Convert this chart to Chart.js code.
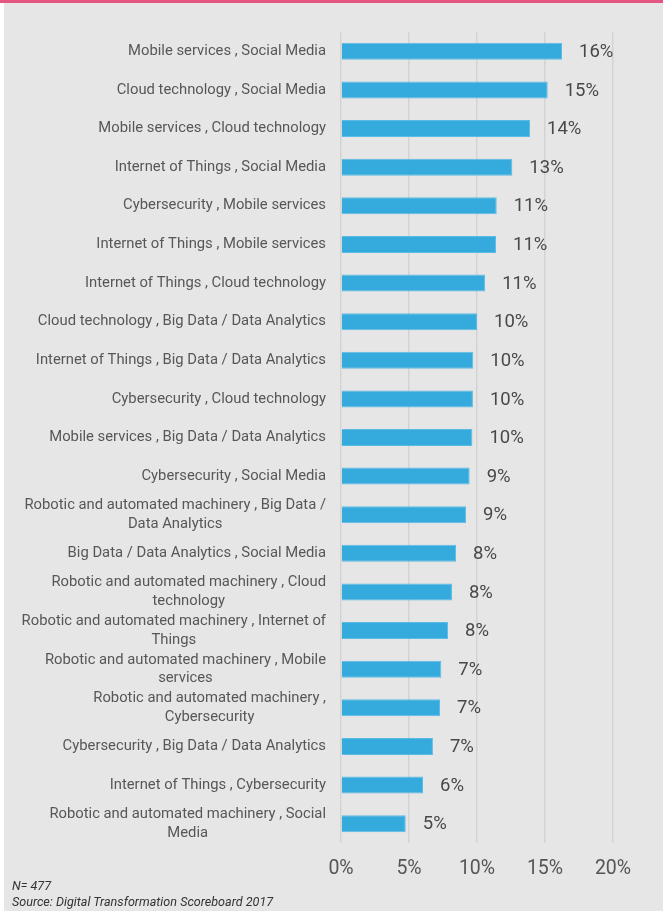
<!DOCTYPE html>
<html>
<head>
<meta charset="utf-8">
<script src="https://cdn.jsdelivr.net/npm/chart.js@4"></script>
<style>
  html, body { margin: 0; padding: 0; background: #ffffff; }
  #topline { position: absolute; left: 0; top: 0; width: 663px; height: 3px; background: #e4567f; }
  #panel { position: absolute; left: 4px; top: 3px; width: 659px; height: 908px; background: #e6e6e6; }
  #wrap { position: absolute; left: 0; top: 0; width: 659px; height: 887px; }
  .note { position: absolute; left: 8px; font-family: Roboto, sans-serif; font-style: italic; font-size: 12.6px; color: #333; }
</style>
</head>
<body>
<div id="topline"></div>
<div id="panel">
  <div id="wrap"><canvas id="barChart"></canvas></div>
  <div class="note" style="top: 875px;">N= 477</div>
  <div class="note" style="top: 891px;">Source: Digital Transformation Scoreboard 2017</div>
</div>
<script>
// Data
const categories = [
    ['Mobile services , Social Media'],
    ['Cloud technology , Social Media'],
    ['Mobile services , Cloud technology'],
    ['Internet of Things , Social Media'],
    ['Cybersecurity , Mobile services'],
    ['Internet of Things , Mobile services'],
    ['Internet of Things , Cloud technology'],
    ['Cloud technology , Big Data / Data Analytics'],
    ['Internet of Things , Big Data / Data Analytics'],
    ['Cybersecurity , Cloud technology'],
    ['Mobile services , Big Data / Data Analytics'],
    ['Cybersecurity , Social Media'],
    ['Robotic and automated machinery , Big Data /', 'Data Analytics'],
    ['Big Data / Data Analytics , Social Media'],
    ['Robotic and automated machinery , Cloud', 'technology'],
    ['Robotic and automated machinery , Internet of', 'Things'],
    ['Robotic and automated machinery , Mobile', 'services'],
    ['Robotic and automated machinery ,', 'Cybersecurity'],
    ['Cybersecurity , Big Data / Data Analytics'],
    ['Internet of Things , Cybersecurity'],
    ['Robotic and automated machinery , Social', 'Media']
];
const shares = [16.25, 15.2, 13.9, 12.6, 11.45, 11.4, 10.6, 10.0, 9.73, 9.7, 9.66,
                9.46, 9.2, 8.46, 8.16, 7.87, 7.38, 7.28, 6.76, 6.03, 4.76];
const xTicks = [0, 5, 10, 15, 20];

// Category labels: block right-aligned, lines centred inside the block
const categoryLabels = {
    id: 'categoryLabels',
    afterDraw(chart) {
        const ctx = chart.ctx;
        const yScale = chart.scales.y;
        const right = chart.chartArea.left - 15;
        ctx.save();
        ctx.font = '14.8px Roboto, sans-serif';
        ctx.fillStyle = '#575757';
        ctx.textAlign = 'center';
        ctx.textBaseline = 'middle';
        categories.forEach((lines, i) => {
            const y = yScale.getPixelForValue(i);
            const w = Math.max(...lines.map(l => ctx.measureText(l).width));
            const cx = right - w / 2;
            const lh = 18.5;
            lines.forEach((l, j) => {
                ctx.fillText(l, cx, y + (j - (lines.length - 1) / 2) * lh);
            });
        });
        ctx.restore();
    }
};

// Value labels next to the bars
const valueLabels = {
    id: 'valueLabels',
    afterDatasetsDraw(chart) {
        const ctx = chart.ctx;
        const meta = chart.getDatasetMeta(0);
        ctx.save();
        ctx.font = '18.5px Roboto, sans-serif';
        ctx.fillStyle = '#484848';
        ctx.textAlign = 'left';
        ctx.textBaseline = 'middle';
        meta.data.forEach((bar, i) => {
            ctx.fillText(Math.round(shares[i]) + '%', bar.x + 17, bar.y + 1);
        });
        ctx.restore();
    }
};

const ctx = document.getElementById('barChart').getContext('2d');
new Chart(ctx, {
    type: 'bar',
    data: {
        labels: categories.map(c => c.join(' ')),
        datasets: [{
            data: shares,
            backgroundColor: '#35aadd',
            borderColor: '#5cbbe4',
            borderWidth: 1,
            barPercentage: 0.88,
            categoryPercentage: 0.5
        }]
    },
    options: {
        indexAxis: 'y',
        responsive: true,
        maintainAspectRatio: false,
        animation: false,
        layout: { padding: { top: 29, right: 50, left: 0, bottom: 0 } },
        plugins: {
            legend: { display: false },
            tooltip: { enabled: false }
        },
        scales: {
            x: {
                min: 0,
                max: 20,
                afterBuildTicks: (scale) => { scale.ticks = xTicks.map(v => ({ value: v })); },
                afterFit: (scale) => { scale.height = 47; },
                grid: { color: '#d3d3d3', lineWidth: 1.5, drawTicks: false },
                border: { display: false },
                ticks: {
                    padding: 14,
                    color: '#555555',
                    font: { family: 'Roboto, sans-serif', size: 19.5 },
                    callback: (v) => v + '%'
                }
            },
            y: {
                afterFit: (scale) => { scale.width = 337; },
                grid: { display: false },
                border: { display: false },
                ticks: { display: false }
            }
        }
    },
    plugins: [categoryLabels, valueLabels]
});
</script>
</body>
</html>
